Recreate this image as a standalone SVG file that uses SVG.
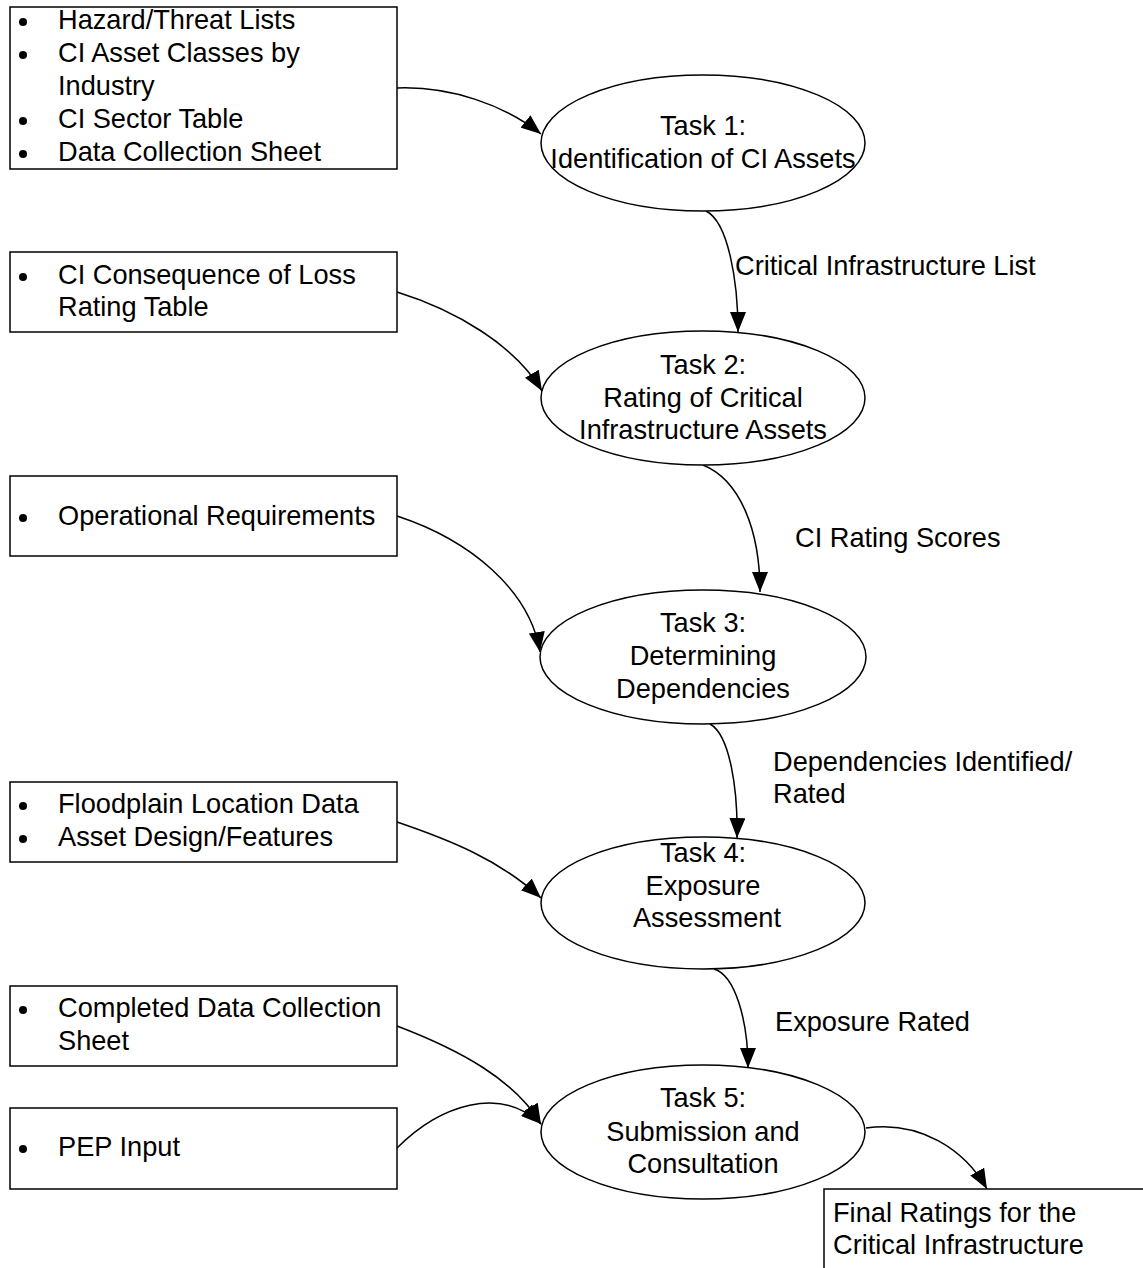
<svg xmlns="http://www.w3.org/2000/svg" width="1143" height="1268" viewBox="0 0 1143 1268">
<defs>
<style>
.box{fill:#fff;stroke:#000;stroke-width:1.5}
.ell{fill:#fff;stroke:#000;stroke-width:1.5}
.t{font-family:"Liberation Sans",Arial,sans-serif;font-size:27.2px;fill:#000}
.c{text-anchor:middle}
.con{fill:none;stroke:#000;stroke-width:1.5}
</style>
<marker id="ah" markerUnits="userSpaceOnUse" markerWidth="22" markerHeight="16" refX="20" refY="8" orient="auto">
<path d="M0,0 L20,8 L0,16 z" fill="#000"/>
</marker>
</defs>
<rect width="1143" height="1268" fill="#fff"/>

<g id="connectors">
<path class="con" d="M397,88 C450,86 505,105 541,134" marker-end="url(#ah)"/>
<path class="con" d="M706,211 C728,222 738,280 738,332" marker-end="url(#ah)"/>
<path class="con" d="M397,292 C455,310 515,345 542,391" marker-end="url(#ah)"/>
<path class="con" d="M703,465 C740,480 760,530 760,592" marker-end="url(#ah)"/>
<path class="con" d="M397,516 C470,540 530,590 540,652" marker-end="url(#ah)"/>
<path class="con" d="M710,724 C730,735 738,790 737,838" marker-end="url(#ah)"/>
<path class="con" d="M397,822 C450,840 500,860 541,898" marker-end="url(#ah)"/>
<path class="con" d="M714,969 C735,975 748,1020 748,1068" marker-end="url(#ah)"/>
<path class="con" d="M397,1026 C460,1050 515,1080 541,1124" marker-end="url(#ah)"/>
<path class="con" d="M397,1148 C440,1105 500,1085 541,1124" marker-end="url(#ah)"/>
<path class="con" d="M866,1128 C920,1120 965,1150 987,1189" marker-end="url(#ah)"/>
<text class="t" x="735" y="275">Critical Infrastructure List</text>
<text class="t" x="795" y="547">CI Rating Scores</text>
<text class="t" x="773" y="771">Dependencies Identified/</text>
<text class="t" x="773" y="803">Rated</text>
<text class="t" x="775" y="1031">Exposure Rated</text>
</g>

<g id="input1">
<rect class="box" x="10" y="7" width="387" height="162"/>
<circle cx="23" cy="22" r="4"/><circle cx="23" cy="55" r="4"/><circle cx="23" cy="121" r="4"/><circle cx="23" cy="154" r="4"/>
<text class="t" x="58" y="29">Hazard/Threat Lists</text>
<text class="t" x="58" y="62">CI Asset Classes by</text>
<text class="t" x="58" y="95">Industry</text>
<text class="t" x="58" y="128">CI Sector Table</text>
<text class="t" x="58" y="161">Data Collection Sheet</text>
</g>
<g id="input2">
<rect class="box" x="10" y="252" width="387" height="80"/>
<circle cx="23" cy="277" r="4"/>
<text class="t" x="58" y="284">CI Consequence of Loss</text>
<text class="t" x="58" y="316">Rating Table</text>
</g>
<g id="input3">
<rect class="box" x="10" y="476" width="387" height="80"/>
<circle cx="23" cy="518" r="4"/>
<text class="t" x="58" y="525">Operational Requirements</text>
</g>
<g id="input4">
<rect class="box" x="10" y="782" width="387" height="80"/>
<circle cx="23" cy="806" r="4"/><circle cx="23" cy="839" r="4"/>
<text class="t" x="58" y="813">Floodplain Location Data</text>
<text class="t" x="58" y="846">Asset Design/Features</text>
</g>
<g id="input5">
<rect class="box" x="10" y="986" width="387" height="80"/>
<circle cx="23" cy="1010" r="4"/>
<text class="t" x="58" y="1017">Completed Data Collection</text>
<text class="t" x="58" y="1050">Sheet</text>
</g>
<g id="input6">
<rect class="box" x="10" y="1108" width="387" height="81"/>
<circle cx="23" cy="1149" r="4"/>
<text class="t" x="58" y="1156">PEP Input</text>
</g>

<g id="task1">
<ellipse class="ell" cx="703" cy="143" rx="162" ry="68"/>
<text class="t c" x="703" y="135">Task 1:</text>
<text class="t c" x="703" y="168">Identification of CI Assets</text>
</g>
<g id="task2">
<ellipse class="ell" cx="703" cy="398" rx="162" ry="67"/>
<text class="t c" x="703" y="374">Task 2:</text>
<text class="t c" x="703" y="407">Rating of Critical</text>
<text class="t c" x="703" y="439">Infrastructure Assets</text>
</g>
<g id="task3">
<ellipse class="ell" cx="703" cy="657" rx="163" ry="67"/>
<text class="t c" x="703" y="632">Task 3:</text>
<text class="t c" x="703" y="665">Determining</text>
<text class="t c" x="703" y="698">Dependencies</text>
</g>
<g id="task4">
<ellipse class="ell" cx="703" cy="903" rx="162" ry="66"/>
<text class="t c" x="703" y="862">Task 4:</text>
<text class="t c" x="703" y="895">Exposure</text>
<text class="t c" x="707" y="927">Assessment</text>
</g>
<g id="task5">
<ellipse class="ell" cx="703" cy="1132" rx="162" ry="67"/>
<text class="t c" x="703" y="1107">Task 5:</text>
<text class="t c" x="703" y="1141">Submission and</text>
<text class="t c" x="703" y="1173">Consultation</text>
</g>
<g id="final">
<rect class="box" x="824" y="1189" width="340" height="100"/>
<text class="t" x="833" y="1222">Final Ratings for the</text>
<text class="t" x="833" y="1254">Critical Infrastructure</text>
</g>
</svg>
